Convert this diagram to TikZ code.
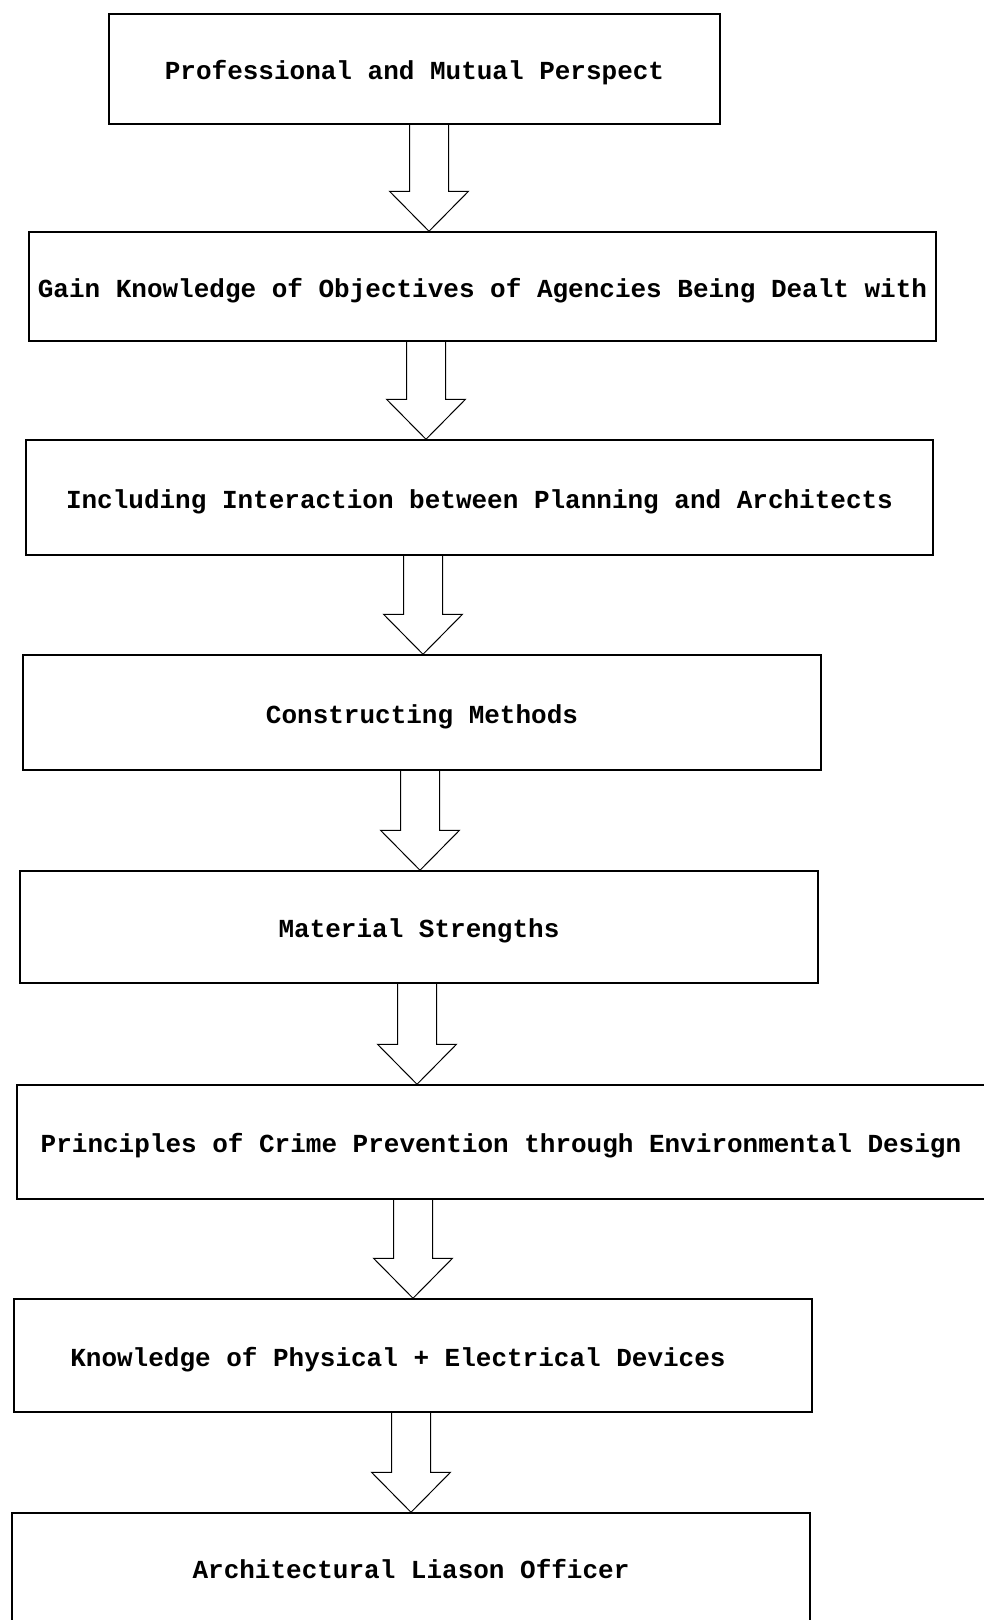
\documentclass[tikz,border=0pt]{standalone}
\usepackage{fontspec}
\setmonofont{Liberation Mono}
\usetikzlibrary{calc}
\newcommand{\blockarrow}[2]{%
  \draw [black, line width=1pt] let \p1=(#1), \p2=(#2) in
  (\x2-19.5pt,\y1) -- (\x2-19.5pt,\y2+40pt) -- (\x2-39.5pt,\y2+40pt) -- (\p2)
  -- (\x2+39.5pt,\y2+40pt) -- (\x2+19.5pt,\y2+40pt) -- (\x2+19.5pt,\y1);}
\begin{document}
\begin{tikzpicture}[x=1pt,y=-1pt]
\tikzstyle{every node}+=[font=\ttfamily\bfseries\fontsize{26}{30}\selectfont]
\tikzstyle{box}=[draw=black, line width=1.5pt, rectangle, inner sep=0pt, text height=21pt, text depth=0pt]
\useasboundingbox (0,0) rectangle (984,1620);
\node [box, minimum width=611pt, minimum height=110pt] (prof) at (414.5,69) {Professional and Mutual Perspect};
\node [box, minimum width=907pt, minimum height=109pt] (gain) at (482.5,286.5) {Gain Knowledge of Objectives of Agencies Being Dealt with};
\node [box, minimum width=907pt, minimum height=115pt] (incl) at (479.5,497.5) {Including Interaction between Planning and Architects};
\node [box, minimum width=798pt, minimum height=115pt] (cons) at (422,712.5) {Constructing Methods};
\node [box, minimum width=798pt, minimum height=112pt] (matl) at (419,927) {Material Strengths};
\node [box, minimum width=968pt, minimum height=114pt] (prin) at (501,1142) {Principles of Crime Prevention through Environmental Design};
\node [box, minimum width=798pt, minimum height=113pt] (know) at (413,1355.5) {Knowledge of Physical + Electrical Devices\hspace*{30pt}};
\node [box, minimum width=798pt, minimum height=110pt] (arch) at (411,1568) {Architectural Liason Officer};
\coordinate (t1) at (429,0);
\coordinate (t2) at (426,0);
\coordinate (t3) at (423,0);
\coordinate (t4) at (420,0);
\coordinate (t5) at (417,0);
\coordinate (t6) at (413,0);
\coordinate (t7) at (411,0);
\blockarrow{prof.south -| t1}{gain.north -| t1}
\blockarrow{gain.south -| t2}{incl.north -| t2}
\blockarrow{incl.south -| t3}{cons.north -| t3}
\blockarrow{cons.south -| t4}{matl.north -| t4}
\blockarrow{matl.south -| t5}{prin.north -| t5}
\blockarrow{prin.south -| t6}{know.north -| t6}
\blockarrow{know.south -| t7}{arch.north -| t7}
\end{tikzpicture}
\end{document}
